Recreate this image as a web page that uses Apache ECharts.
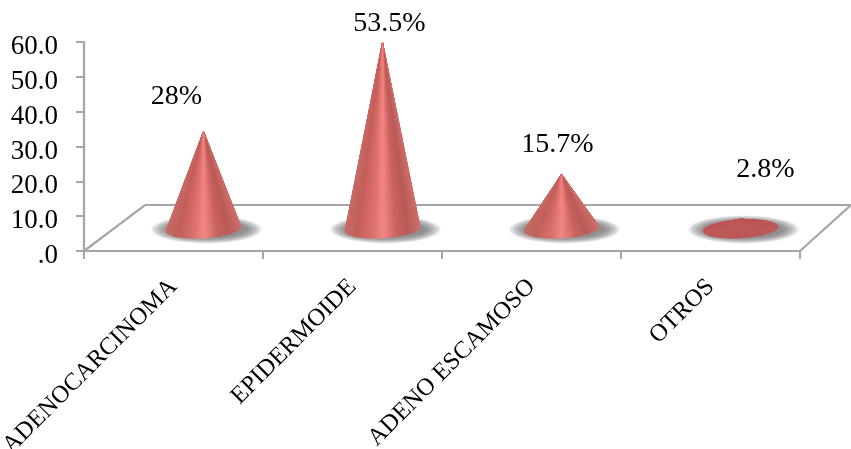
<!DOCTYPE html>
<html>
<head>
<meta charset="utf-8">
<style>html,body{margin:0;padding:0;background:#fff}#chart{width:851px;height:449px}</style>
<script src="https://cdn.jsdelivr.net/npm/echarts@6/dist/echarts.min.js"></script>
</head>
<body>
<div id="chart"></div>
<script>
// Tumour types and their share of cases
const categories = ['ADENOCARCINOMA', 'EPIDERMOIDE', 'ADENO ESCAMOSO', 'OTROS'];
const shares = [28, 53.5, 15.7, 2.8];
const shareLabels = ['28%', '53.5%', '15.7%', '2.8%'];

// Hand-placed label offsets from each cone tip, in pixels
const labelOffsets = [[-27, -35], [7, -19], [-4, -30], [25, -50]];

// Perspective of the 3D floor
const FLOOR_DEPTH = [61, -46];
const FLOOR_RIGHT_DEPTH = [51, -43];
const CONE_SHIFT = [30, -22];
const BASE_RX = 37.5, BASE_RY = 9, BASE_TILT = -3.5 * Math.PI / 180;

const AXIS_GREY = '#a6a6a6';
const SERIF = '"Liberation Serif", serif';

// Shading stops across the visible face of a cone
const shadeStops = [
  [0, [206, 110, 106]], [0.16, [186, 90, 88]], [0.32, [202, 98, 96]],
  [0.5, [244, 134, 132]], [0.64, [220, 112, 108]], [0.85, [196, 94, 90]], [1, [198, 106, 100]]
];
const flatShade = [190, 86, 86];

function shadeAt(u, amount) {
  let i = 0;
  while (i < shadeStops.length - 2 && u > shadeStops[i + 1][0]) i++;
  const a = shadeStops[i], b = shadeStops[i + 1];
  const t = Math.max(0, Math.min(1, (u - a[0]) / (b[0] - a[0])));
  const c = a[1].map((v, k) => v + (b[1][k] - v) * t);
  const m = c.map((v, k) => Math.round(flatShade[k] + (v - flatShade[k]) * amount));
  return 'rgb(' + m.join(',') + ')';
}

function basePoint(cx, cy, angle) {
  const x = BASE_RX * Math.cos(angle), y = BASE_RY * Math.sin(angle);
  return [
    cx + x * Math.cos(BASE_TILT) - y * Math.sin(BASE_TILT),
    cy + x * Math.sin(BASE_TILT) + y * Math.cos(BASE_TILT)
  ];
}

function renderFloor(params, api) {
  const g = params.coordSys;
  const left = [g.x, g.y + g.height];
  const right = [g.x + g.width, g.y + g.height];
  const backLeft = [left[0] + FLOOR_DEPTH[0], left[1] + FLOOR_DEPTH[1]];
  const backRight = [right[0] + FLOOR_RIGHT_DEPTH[0], backLeft[1]];
  return {
    type: 'polyline',
    silent: true,
    shape: { points: [left, backLeft, backRight, right] },
    style: { fill: null, stroke: AXIS_GREY, lineWidth: 2.2 }
  };
}

function renderCone(params, api) {
  const idx = params.dataIndex;
  const value = api.value(1);
  const base = api.coord([idx, 0]);
  const top = api.coord([idx, value]);
  const cx = base[0] + CONE_SHIFT[0];
  const cy = base[1] + CONE_SHIFT[1];
  const tip = [cx, top[1] + CONE_SHIFT[1]];
  const amount = Math.min(1, Math.max(0, (value - 3) / 9));

  // Soft contact shadow: stacked translucent rings, densest at the middle
  const children = [];
  const RINGS = 14;
  for (let r = RINGS; r >= 1; r--) {
    const k = r / RINGS;
    children.push({
      type: 'ellipse',
      silent: true,
      shape: { cx: cx + 3, cy: cy + 0.5, rx: BASE_RX + 1 + 17 * k, ry: BASE_RY - 1 + 6 * k },
      style: { fill: 'rgba(100,100,100,0.075)' }
    });
  }

  // Facets fan out from the tip so the highlight narrows toward it
  const N = 96;
  const facets = [];
  for (let i = 0; i < N; i++) {
    const a0 = i / N * Math.PI * 2;
    const a1 = (i + 1) / N * Math.PI * 2;
    const p0 = basePoint(cx, cy, a0);
    const p1 = basePoint(cx, cy, a1);
    const mid = (a0 + a1) / 2;
    const u = 0.5 - 0.5 * Math.cos(mid);
    const color = shadeAt(u, amount);
    facets.push({ depth: Math.sin(mid), item: {
      type: 'polygon',
      silent: true,
      shape: { points: [tip, p0, p1] },
      style: { fill: color, stroke: color, lineWidth: 0.5 }
    }});
  }
  facets.sort((a, b) => a.depth - b.depth);
  facets.forEach(f => children.push(f.item));

  const off = labelOffsets[idx];
  children.push({
    type: 'text',
    silent: true,
    style: {
      x: tip[0] + off[0],
      y: tip[1] + off[1],
      text: shareLabels[idx],
      fill: '#000',
      font: '28px ' + SERIF,
      align: 'center',
      verticalAlign: 'middle'
    }
  });
  return { type: 'group', children };
}

const chart = echarts.init(document.getElementById('chart'), null, { renderer: 'canvas' });
chart.setOption({
  animation: false,
  backgroundColor: '#fff',
  grid: { left: 84, right: 51, top: 42, bottom: 198, containLabel: false, outerBoundsMode: 'none' },
  xAxis: {
    type: 'category',
    data: categories,
    axisLine: { show: true, lineStyle: { color: AXIS_GREY, width: 2.2 } },
    axisTick: { show: true, length: 8, alignWithLabel: false, lineStyle: { color: AXIS_GREY, width: 2 } },
    axisLabel: {
      interval: 0,
      rotate: 45,
      margin: 32,
      color: '#000',
      fontFamily: SERIF,
      fontSize: 24.5,
      hideOverlap: false
    },
    splitLine: { show: false }
  },
  yAxis: {
    type: 'value',
    min: 0,
    max: 60,
    interval: 10,
    axisLine: { show: true, lineStyle: { color: AXIS_GREY, width: 2.2 } },
    axisTick: { show: true, length: 8, lineStyle: { color: AXIS_GREY, width: 2 } },
    axisLabel: {
      margin: 26,
      color: '#000',
      formatter: v => '{n|' + (v === 0 ? '.0' : v.toFixed(1)) + '}',
      rich: {
        n: { fontFamily: SERIF, fontSize: 27, color: '#000', padding: [10, 0, 0, 0] }
      }
    },
    splitLine: { show: false }
  },
  series: [
    {
      type: 'custom',
      name: 'Suelo',
      coordinateSystem: 'cartesian2d',
      renderItem: renderFloor,
      data: [[0, 0]],
      clip: false,
      silent: true,
      z: 1
    },
    {
      type: 'custom',
      name: 'Porcentaje',
      coordinateSystem: 'cartesian2d',
      renderItem: renderCone,
      data: shares.map((v, i) => [i, v]),
      clip: false,
      silent: true,
      z: 2
    }
  ]
});
</script>
</body>
</html>
